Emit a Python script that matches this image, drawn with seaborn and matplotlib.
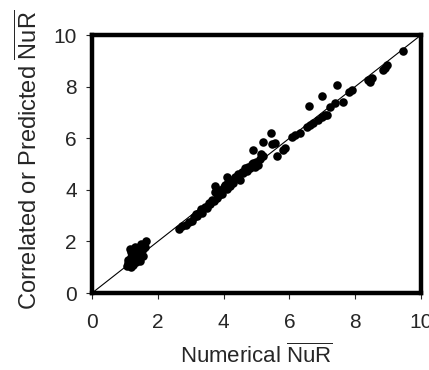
import pandas as pd
import matplotlib
matplotlib.use("Agg")
import matplotlib.pyplot as plt
import seaborn as sns

# numerical vs correlated/predicted NuR values
numerical = [
    1.05, 1.10, 1.10, 1.15, 1.20, 1.20, 1.15, 1.25, 1.30, 1.30, 1.35, 1.40, 1.40,
    1.45, 1.50, 1.50, 1.55, 1.60, 1.65, 1.25, 1.35, 1.45, 1.20, 1.55, 1.30,
    2.65, 2.75, 2.85, 2.95, 3.05, 3.10, 3.20, 3.25, 3.30, 3.35, 3.45, 3.50, 3.55,
    3.60, 3.65, 3.70, 3.75, 3.80, 3.85, 3.90, 3.95, 4.00, 4.05, 4.10, 4.15, 4.20,
    4.25, 4.30, 4.35, 4.40, 4.45, 4.50, 4.55, 4.60, 4.65, 4.70, 4.75, 4.80, 4.85,
    4.90, 4.95, 5.00, 5.05, 5.10, 5.15, 5.20, 3.15, 3.75, 4.10,
    4.90, 5.20, 5.44, 5.47, 5.56, 5.80, 5.62, 5.87,
    6.08, 6.17, 6.32, 6.53, 6.63, 6.72, 6.87, 6.99, 7.08, 7.14, 7.23, 7.39, 7.63,
    6.60, 6.99, 7.45, 7.81, 7.90, 8.39, 8.45, 8.51, 8.84, 8.90, 8.97, 9.45,
]
predicted = [
    1.05, 1.15, 1.30, 1.20, 1.40, 1.60, 1.70, 1.50, 1.30, 1.80, 1.60, 1.40, 1.75,
    1.55, 1.90, 1.65, 1.45, 1.80, 2.00, 1.10, 1.20, 1.25, 1.00, 1.70, 1.55,
    2.50, 2.60, 2.65, 2.75, 2.80, 2.95, 3.00, 3.10, 3.25, 3.10, 3.35, 3.30, 3.50,
    3.45, 3.60, 3.55, 3.90, 3.70, 3.80, 4.00, 3.85, 4.10, 4.20, 4.05, 4.30, 4.15,
    4.40, 4.25, 4.50, 4.45, 4.60, 4.40, 4.70, 4.65, 4.85, 4.75, 4.90, 4.85, 5.00,
    5.05, 4.90, 5.10, 4.95, 5.20, 5.40, 5.30, 3.05, 4.15, 4.50,
    5.54, 5.85, 6.20, 5.77, 5.80, 5.54, 5.30, 5.62,
    6.05, 6.12, 6.20, 6.43, 6.50, 6.59, 6.70, 6.82, 6.90, 6.90, 7.20, 7.36, 7.40,
    7.25, 7.64, 8.06, 7.79, 7.87, 8.26, 8.18, 8.33, 8.64, 8.72, 8.84, 9.38,
]
ticks = [0, 2, 4, 6, 8, 10]

df = pd.DataFrame({"Numerical": numerical, "Predicted": predicted})

sns.set_style("white")
plt.rcParams["font.family"] = ["Liberation Sans", "DejaVu Sans"]
plt.rcParams["mathtext.fontset"] = "custom"
plt.rcParams["mathtext.rm"] = "Liberation Sans"

fig = plt.figure(figsize=(4.29, 3.70), dpi=100)
ax = fig.add_axes([0.2145, 0.208, 0.7665, 0.697])

# perfect agreement line
sns.lineplot(x=[0, 10], y=[0, 10], color="black", linewidth=0.8, ax=ax)
sns.scatterplot(data=df, x="Numerical", y="Predicted", color="black",
                s=38, edgecolor="black", linewidth=0, ax=ax)

ax.set_xlim(0, 10)
ax.set_ylim(0, 10)
ax.set_xticks(ticks)
ax.set_yticks(ticks)
ax.tick_params(direction="out", length=4, width=0.8, labelsize=15,
               bottom=True, left=True)
ax.tick_params(axis="x", pad=10.5)
ax.tick_params(axis="y", pad=7)
for s in ax.spines.values():
    s.set_linewidth(3.2)
    s.set_color("black")

ax.set_xlabel(r"Numerical $\overline{\mathrm{NuR}}$", fontsize=16, labelpad=8)
ax.set_ylabel(r"Correlated or Predicted $\overline{\mathrm{NuR}}$", fontsize=17)
ax.yaxis.set_label_coords(-0.152, 0.515)

fig.savefig("out.png", dpi=100)
